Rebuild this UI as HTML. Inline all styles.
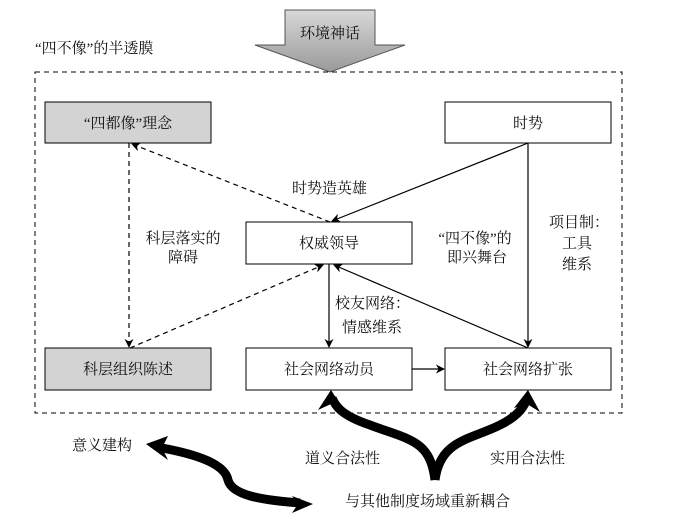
<!DOCTYPE html>
<html><head><meta charset="utf-8"><style>
body{margin:0;background:#fff;}
svg text{font-family:"Liberation Serif","Noto Serif CJK SC",serif;font-size:15px;fill:#111;}
</style></head><body>
<svg width="700" height="521" viewBox="0 0 700 521" xmlns="http://www.w3.org/2000/svg">
<defs>
<linearGradient id="g" x1="0" y1="0" x2="0" y2="1"><stop offset="0" stop-color="#d8d8d8"/><stop offset="1" stop-color="#9a9a9a"/></linearGradient>
<marker id="a" viewBox="0 0 10 10" refX="9" refY="5" markerWidth="9" markerHeight="9" orient="auto" markerUnits="userSpaceOnUse"><path d="M0,0 L10,5 L0,10 L3,5 Z" fill="#000"/></marker>
</defs>
<rect x="35" y="72" width="587" height="341" fill="none" stroke="#000" stroke-dasharray="5,4"/>
<path d="M285,10 H375 V45 H405 L330,72 L255,45 H285 Z" fill="url(#g)" stroke="#555"/>
<text x="330" y="38" text-anchor="middle" font-size="16">环境神话</text>
<text x="35" y="53">“四不像”的半透膜</text>
<rect x="45" y="102" width="166" height="41" fill="#d3d3d3" stroke="#000"/>
<text x="128" y="128" text-anchor="middle">“四都像”理念</text>
<rect x="445" y="102" width="166" height="41" fill="#fff" stroke="#000"/>
<text x="528" y="128" text-anchor="middle">时势</text>
<rect x="246" y="222" width="166" height="42" fill="#fff" stroke="#000"/>
<text x="329" y="248" text-anchor="middle">权威领导</text>
<rect x="45" y="348" width="166" height="42" fill="#d3d3d3" stroke="#000"/>
<text x="128" y="374" text-anchor="middle">科层组织陈述</text>
<rect x="246" y="348" width="166" height="42" fill="#fff" stroke="#000"/>
<text x="329" y="374" text-anchor="middle">社会网络动员</text>
<rect x="445" y="348" width="166" height="42" fill="#fff" stroke="#000"/>
<text x="528" y="374" text-anchor="middle">社会网络扩张</text>
<g stroke="#000" stroke-width="1.2" fill="none">
<line x1="528" y1="143" x2="332" y2="221" marker-end="url(#a)"/>
<line x1="528" y1="143" x2="528" y2="347" marker-end="url(#a)"/>
<line x1="528" y1="348" x2="334" y2="265" marker-end="url(#a)"/>
<line x1="329" y1="264" x2="329" y2="347" marker-end="url(#a)"/>
<line x1="412" y1="369" x2="444" y2="369" marker-end="url(#a)"/>
<g stroke-dasharray="5,4">
<line x1="330" y1="222" x2="132" y2="144" marker-end="url(#a)"/>
<line x1="129" y1="143" x2="129" y2="347" marker-end="url(#a)"/>
<line x1="130" y1="348" x2="323" y2="265" marker-end="url(#a)"/>
</g>
</g>
<text x="292" y="193">时势造英雄</text>
<text x="183" y="243" text-anchor="middle">科层落实的</text>
<text x="183" y="262" text-anchor="middle">障碍</text>
<text x="475" y="243" text-anchor="middle">“四不像”的</text>
<text x="477" y="262" text-anchor="middle">即兴舞台</text>
<text x="549" y="227">项目制：</text>
<text x="562" y="248">工具</text>
<text x="562" y="269">维系</text>
<text x="335" y="308">校友网络：</text>
<text x="342" y="332">情感维系</text>
<g stroke="#000" stroke-width="9" fill="none">
<path d="M435,480 C430,440 410,440 370,425 C340,415 335,405 332,398"/>
<path d="M435,480 C440,440 470,440 500,425 C520,415 525,405 527,398"/>
<path d="M162,448 C200,455 225,465 228,480 C232,495 260,500 300,503"/>
</g>
<g fill="#000">
<path d="M331,390 L345,412 L331,404 L318,410 Z"/>
<path d="M528,390 L540,412 L527,404 L514,408 Z"/>
<path d="M146,444 L168,436 L162,448 L168,460 Z"/>
<path d="M313,504 L292,496 L298,504 L292,513 Z"/>
</g>
<text x="72" y="450">意义建构</text>
<text x="305" y="463">道义合法性</text>
<text x="490" y="463">实用合法性</text>
<text x="345" y="506">与其他制度场域重新耦合</text>
</svg>
</body></html>
